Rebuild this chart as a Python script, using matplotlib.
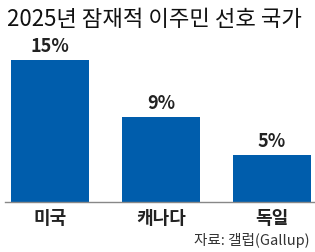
import matplotlib
matplotlib.use("Agg")
import matplotlib.pyplot as plt

plt.rcParams['font.family'] = ['Noto Sans CJK KR', 'DejaVu Sans']

# 데이터
countries = ["미국", "캐나다", "독일"]
shares = [15, 9, 5]
labels = ["15%", "9%", "5%"]
title = "2025년 잠재적 이주민 선호 국가"
source = "자료: 갤럽(Gallup)"

W, H = 315, 252
fig = plt.figure(figsize=(W / 100, H / 100), dpi=100)

# 축 영역: 바닥선 y=202px, 위쪽 30px
ax = fig.add_axes([5 / W, (H - 202) / H, 1 - 5 / W, (202 - 30) / H])
ax.bar(range(len(countries)), shares, width=0.7, color="#005DAC")
ax.set_xlim(-0.405, 2.387)
ax.set_ylim(0, (202 - 30) / 9.45)

for i, (v, lab) in enumerate(zip(shares, labels)):
    ax.annotate(lab, (i, v), xytext=(0, 3), textcoords="offset points",
                ha="center", va="bottom", fontsize=13, fontweight="bold",
                color="#222222")

ax.set_xticks(range(len(countries)))
ax.set_xticklabels(countries, fontsize=13, fontweight="bold", color="#222222")
ax.tick_params(axis="x", length=0, pad=5)
ax.set_yticks([])
for s in ["top", "left", "right"]:
    ax.spines[s].set_visible(False)
ax.spines["bottom"].set_color("#888888")
ax.spines["bottom"].set_linewidth(1.0)

fig.text(7 / W, 1 - 19 / H, title, fontsize=16, color="#111111",
         ha="left", va="center")
fig.text(310 / W, 1 - 240 / H, source, fontsize=10.5, color="#333333",
         ha="right", va="center")

fig.savefig("out.png", dpi=100)
